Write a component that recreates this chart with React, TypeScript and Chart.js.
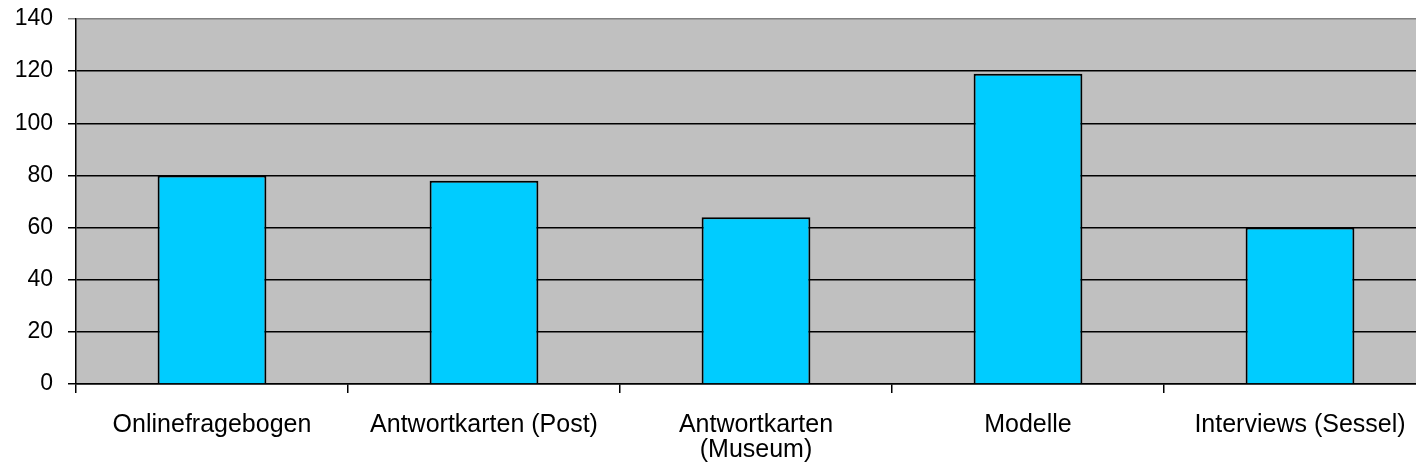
import React, { useEffect, useRef } from "react";
import { Chart, registerables } from "chart.js";

Chart.register(...registerables);

const categories: (string | string[])[] = [
  "Onlinefragebogen",
  "Antwortkarten (Post)",
  ["Antwortkarten", "(Museum)"],
  "Modelle",
  "Interviews (Sessel)",
];
const values: number[] = [80, 78, 64, 119, 60];
const yMin = 0;
const yMax = 140;
const yStep = 20;

const FONT = "'Liberation Sans', Arial, sans-serif";

const plotBg = {
  id: "plotBg",
  beforeDraw(chart: any) {
    const { ctx, chartArea } = chart;
    if (!chartArea) return;
    ctx.save();
    ctx.fillStyle = "#C0C0C0";
    ctx.fillRect(chartArea.left, chartArea.top, chartArea.right - chartArea.left, chartArea.bottom - chartArea.top);
    ctx.restore();
  },
};

export default function App() {
  const ref = useRef<HTMLCanvasElement | null>(null);
  useEffect(() => {
    if (!ref.current) return;
    const chart = new Chart(ref.current, {
      type: "bar",
      data: {
        labels: categories,
        datasets: [
          {
            data: values,
            backgroundColor: "#00CCFF",
            borderColor: "#000000",
            borderWidth: 2,
            barPercentage: 0.4,
            categoryPercentage: 1,
          },
        ],
      },
      options: {
        animation: false,
        responsive: false,
        maintainAspectRatio: false,
        layout: { padding: { left: 0, right: 0, top: 19, bottom: 0 } },
        plugins: { legend: { display: false }, tooltip: { enabled: false } },
        scales: {
          x: {
            offset: true,
            grid: {
              offset: true,
              drawOnChartArea: false,
              drawTicks: true,
              tickLength: 9,
              color: "#000",
              lineWidth: 1.5,
            },
            border: { display: true, color: "#000", width: 1.5 },
            ticks: {
              color: "#000",
              font: { family: FONT, size: 25, lineHeight: 1.0 },
              padding: 20,
              maxRotation: 0,
              autoSkip: false,
            },
            afterFit: (s: any) => {
              s.height = 474 - 384;
              s.paddingLeft = 0;
              s.paddingRight = 0;
            },
          },
          y: {
            min: yMin,
            max: yMax,
            ticks: {
              stepSize: yStep,
              color: "#000",
              font: { family: FONT, size: 23 },
              padding: 15,
            },
            grid: {
              color: (c: any) => (c.tick && c.tick.value === yMax ? "#808080" : "#000"),
              lineWidth: 1.5,
              tickLength: 8,
              drawTicks: true,
            },
            border: { display: true, color: "#000", width: 1.5 },
            afterFit: (s: any) => {
              s.width = 76;
              s.paddingTop = 0;
              s.paddingBottom = 0;
            },
          },
        },
      },
      plugins: [plotBg],
    });
    return () => chart.destroy();
  }, []);
  return (
    <div style={{ position: "fixed", left: 0, top: 0, width: 1416, height: 474, overflow: "hidden", background: "#fff" }}>
      <canvas ref={ref} width={1436} height={474} style={{ display: "block", width: 1436, height: 474 }} />
    </div>
  );
}
